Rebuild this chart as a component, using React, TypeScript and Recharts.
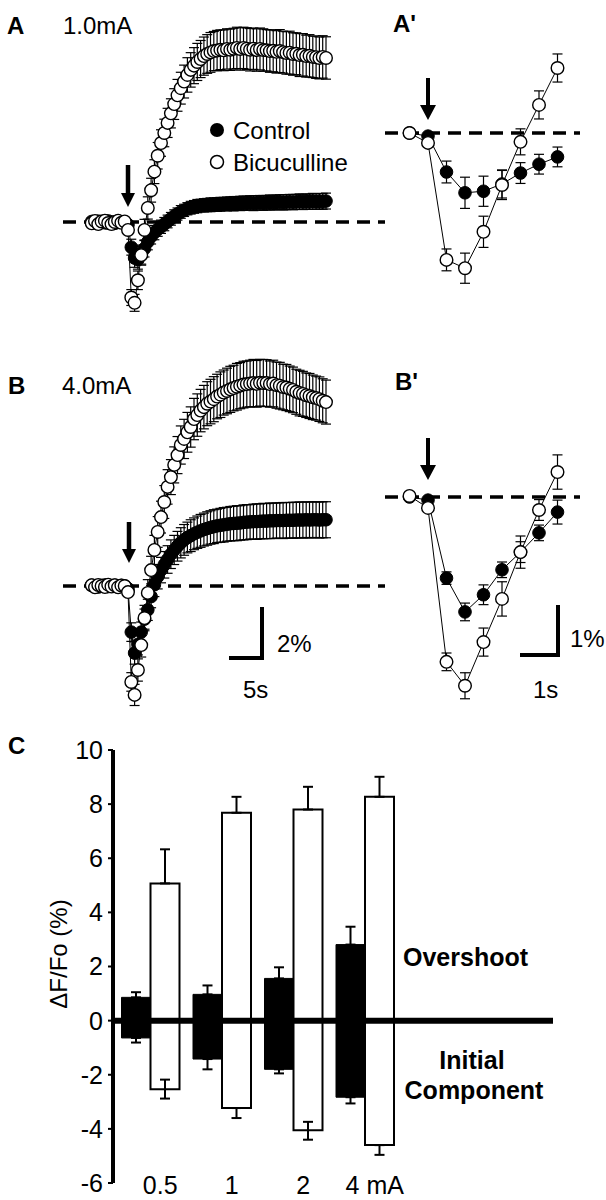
import React from "react";
import { LineChart, Line, XAxis, YAxis, ReferenceLine, ErrorBar, BarChart, Bar } from "recharts";

const FONT = "'Liberation Sans', Arial, Helvetica, sans-serif";

// ---- panels A / B : time course, one sample every 0.5 s (t = 0 is the stimulus)
const traceTimes = [
  -5.5, -5, -4.5, -4, -3.5, -3, -2.5, -2, -1.5, -1, -0.5,
  0, 0.5, 1, 1.5, 2, 2.5, 3, 3.5, 4, 4.5,
  5, 5.5, 6, 6.5, 7, 7.5, 8, 8.5, 9, 9.5,
  10, 10.5, 11, 11.5, 12, 12.5, 13, 13.5, 14, 14.5,
  15, 15.5, 16, 16.5, 17, 17.5, 18, 18.5, 19, 19.5,
  20, 20.5, 21, 21.5, 22, 22.5, 23, 23.5, 24, 24.5,
  25, 25.5, 26, 26.5, 27, 27.5, 28, 28.5, 29, 29.5,
  30,
];

// A, 1.0 mA
const aControl = [
  0.02, -0.04, 0.03, 0, -0.03, 0.04, 0, -0.05, 0.03, 0, -0.02,
  -0.1, -0.95, -1.36, -1.42, -1.25, -1.0, -0.75, -0.55, -0.4, -0.28,
  -0.18, -0.08, 0.02, 0.12, 0.22, 0.3, 0.38, 0.44, 0.5, 0.54,
  0.57, 0.6, 0.62, 0.63, 0.64, 0.65, 0.66, 0.66, 0.67, 0.68,
  0.68, 0.69, 0.69, 0.7, 0.7, 0.71, 0.71, 0.72, 0.71, 0.72,
  0.73, 0.72, 0.73, 0.74, 0.73, 0.74, 0.75, 0.74, 0.75, 0.76,
  0.75, 0.76, 0.77, 0.76, 0.77, 0.77, 0.78, 0.77, 0.78, 0.78,
  0.79,
];
const aControlErr = [
  0.1, 0.12, 0.1, 0.11, 0.1, 0.12, 0.1, 0.11, 0.1, 0.12, 0.1,
  0.12, 0.3, 0.35, 0.36, 0.34, 0.32, 0.3, 0.28, 0.27, 0.26,
  0.25, 0.25, 0.24, 0.24, 0.24, 0.23, 0.24, 0.23, 0.23, 0.24,
  0.24, 0.25, 0.24, 0.25, 0.25, 0.26, 0.25, 0.26, 0.26, 0.25,
  0.26, 0.26, 0.27, 0.26, 0.27, 0.27, 0.26, 0.27, 0.28, 0.27,
  0.27, 0.28, 0.27, 0.28, 0.28, 0.27, 0.28, 0.29, 0.28, 0.28,
  0.29, 0.28, 0.29, 0.29, 0.28, 0.29, 0.3, 0.29, 0.29, 0.3,
  0.3,
];
const aBic = [
  -0.05, 0.04, -0.08, 0.02, 0.05, -0.04, -0.08, 0, 0.05, -0.03, 0.02,
  -0.3, -2.85, -3.05, -2.2, -1.25, -0.3, 0.53, 1.2, 1.9, 2.5,
  2.98, 3.36, 3.74, 4.1, 4.45, 4.78, 5.05, 5.3, 5.55, 5.74,
  5.9, 6.04, 6.15, 6.26, 6.34, 6.4, 6.45, 6.47, 6.5, 6.48,
  6.53, 6.5, 6.54, 6.57, 6.53, 6.57, 6.54, 6.5, 6.54, 6.49,
  6.53, 6.49, 6.48, 6.45, 6.46, 6.42, 6.45, 6.41, 6.38, 6.39,
  6.34, 6.35, 6.3, 6.31, 6.26, 6.27, 6.23, 6.22, 6.19, 6.23,
  6.19,
];
const aBicErr = [
  0.12, 0.15, 0.12, 0.14, 0.13, 0.15, 0.12, 0.14, 0.13, 0.15, 0.14,
  0.15, 0.3, 0.32, 0.35, 0.38, 0.4, 0.42, 0.45, 0.45, 0.5,
  0.5, 0.52, 0.55, 0.55, 0.58, 0.6, 0.6, 0.62, 0.65, 0.65,
  0.68, 0.7, 0.7, 0.72, 0.73, 0.75, 0.74, 0.76, 0.75, 0.77,
  0.76, 0.78, 0.77, 0.78, 0.8, 0.78, 0.79, 0.8, 0.78, 0.8,
  0.79, 0.8, 0.78, 0.8, 0.79, 0.8, 0.81, 0.79, 0.8, 0.81,
  0.8, 0.79, 0.81, 0.8, 0.79, 0.8, 0.78, 0.8, 0.79, 0.8,
  0.8,
];

// B, 4.0 mA
const bControl = [
  0.03, 0, -0.04, 0.02, 0.04, -0.02, 0, 0.03, -0.03, 0.02, 0,
  -0.1, -1.74, -2.53, -2.2, -1.74, -1.25, -0.9, -0.4, 0.05, 0.35,
  0.6, 0.8, 1.0, 1.2, 1.36, 1.5, 1.63, 1.74, 1.83, 1.9,
  1.97, 2.03, 2.08, 2.13, 2.17, 2.21, 2.24, 2.27, 2.29, 2.31,
  2.33, 2.35, 2.36, 2.37, 2.38, 2.4, 2.41, 2.42, 2.43, 2.43,
  2.44, 2.45, 2.45, 2.46, 2.46, 2.47, 2.47, 2.47, 2.48, 2.48,
  2.48, 2.49, 2.49, 2.49, 2.5, 2.49, 2.5, 2.5, 2.49, 2.5,
  2.5,
];
const bControlErr = [
  0.1, 0.12, 0.1, 0.11, 0.12, 0.1, 0.11, 0.12, 0.1, 0.11, 0.12,
  0.14, 0.35, 0.42, 0.4, 0.38, 0.38, 0.4, 0.42, 0.45, 0.46,
  0.48, 0.5, 0.52, 0.54, 0.55, 0.56, 0.57, 0.58, 0.58, 0.6,
  0.6, 0.61, 0.62, 0.62, 0.63, 0.63, 0.64, 0.63, 0.64, 0.65,
  0.64, 0.65, 0.65, 0.66, 0.65, 0.66, 0.66, 0.65, 0.66, 0.67,
  0.66, 0.67, 0.66, 0.67, 0.67, 0.66, 0.67, 0.68, 0.67, 0.67,
  0.68, 0.67, 0.68, 0.68, 0.67, 0.68, 0.68, 0.67, 0.68, 0.68,
  0.68,
];
const bBic = [
  0.03, -0.05, 0.04, 0, -0.04, 0.05, -0.02, 0.03, -0.05, 0.02, 0,
  -0.23, -3.62, -4.11, -3.17, -2.23, -1.21, -0.26, 0.6, 1.36, 2.04,
  2.6, 3.17, 3.74, 4.11, 4.57, 4.94, 5.32, 5.55, 5.8, 6.0,
  6.3, 6.45, 6.62, 6.75, 6.88, 6.96, 7.05, 7.15, 7.22, 7.3,
  7.36, 7.42, 7.47, 7.52, 7.56, 7.6, 7.62, 7.64, 7.66, 7.63,
  7.67, 7.66, 7.66, 7.62, 7.64, 7.58, 7.56, 7.51, 7.49, 7.44,
  7.4, 7.33, 7.28, 7.25, 7.2, 7.17, 7.12, 7.09, 7.05, 6.99,
  6.94,
];
const bBicErr = [
  0.12, 0.14, 0.12, 0.15, 0.13, 0.14, 0.12, 0.15, 0.13, 0.14, 0.12,
  0.15, 0.35, 0.4, 0.42, 0.45, 0.48, 0.5, 0.52, 0.55, 0.58,
  0.6, 0.62, 0.65, 0.66, 0.68, 0.7, 0.72, 0.74, 0.75, 0.76,
  0.78, 0.8, 0.8, 0.82, 0.83, 0.84, 0.85, 0.84, 0.86, 0.85,
  0.86, 0.87, 0.86, 0.88, 0.87, 0.88, 0.87, 0.88, 0.89, 0.88,
  0.88, 0.89, 0.88, 0.87, 0.88, 0.87, 0.88, 0.86, 0.87, 0.86,
  0.86, 0.85, 0.86, 0.85, 0.84, 0.85, 0.84, 0.83, 0.84, 0.83,
  0.83,
];

// ---- panels A' / B' : first seconds, expanded
const zoomTimes = [-0.5, 0, 0.5, 1, 1.5, 2, 2.5, 3, 3.5];
const apControl = [0, -0.06, -0.75, -1.15, -1.12, -0.98, -0.77, -0.6, -0.46];
const apControlErr = [0.04, 0.05, 0.21, 0.3, 0.29, 0.27, 0.2, 0.19, 0.19];
const apBic = [0, -0.19, -2.44, -2.6, -1.9, -1.0, -0.17, 0.54, 1.25];
const apBicErr = [0.05, 0.06, 0.21, 0.29, 0.3, 0.28, 0.25, 0.27, 0.27];
const bpControl = [0, -0.06, -1.56, -2.21, -1.88, -1.4, -1.06, -0.69, -0.29];
const bpControlErr = [0.03, 0.05, 0.12, 0.17, 0.19, 0.15, 0.2, 0.15, 0.23];
const bpBic = [0.02, -0.21, -3.17, -3.63, -2.79, -1.96, -1.06, -0.25, 0.48];
const bpBicErr = [0.03, 0.05, 0.17, 0.25, 0.27, 0.33, 0.31, 0.2, 0.33];

// ---- panel C : peak amplitudes
const currents = ["0.5", "1", "2", "4 mA"];
const controlOvershoot = [0.86, 0.97, 1.56, 2.81];
const controlOvershootErr = [0.19, 0.33, 0.41, 0.66];
const controlInitial = [-0.64, -1.42, -1.8, -2.83];
const controlInitialErr = [0.17, 0.38, 0.15, 0.23];
const bicOvershoot = [5.07, 7.68, 7.8, 8.27];
const bicOvershootErr = [1.26, 0.59, 0.84, 0.74];
const bicInitial = [-2.54, -3.23, -4.05, -4.6];
const bicInitialErrDown = [0.34, 0.37, 0.35, 0.36];
const bicInitialErrUp = [0.36, 0, 0.31, 0];
const yTicks = [-6, -4, -2, 0, 2, 4, 6, 8, 10];

type Geo = { left: number; top: number; width: number; height: number; x0: number; y0: number; pxS: number; pxP: number };

const geoA: Geo = { left: 63, top: 10, width: 322, height: 320, x0: 128, y0: 222, pxS: 6.6, pxP: 26.5 };
const geoB: Geo = { left: 63, top: 350, width: 322, height: 380, x0: 128, y0: 586, pxS: 6.6, pxP: 26.5 };
const geoAp: Geo = { left: 385, top: 30, width: 195, height: 290, x0: 428, y0: 133, pxS: 37, pxP: 52 };
const geoBp: Geo = { left: 385, top: 400, width: 195, height: 320, x0: 428, y0: 497, pxS: 37, pxP: 52 };

const domains = (g: Geo) => ({
  x: [(g.left - g.x0) / g.pxS, (g.left + g.width - g.x0) / g.pxS],
  y: [(g.y0 - g.top - g.height) / g.pxP, (g.y0 - g.top) / g.pxP],
});

const FilledDot = (p: any) => (
  <circle key={`f-${p.index}`} cx={p.cx} cy={p.cy} r={6.3} fill="#000" stroke="#000" strokeWidth={1} />
);
const OpenDot = (p: any) => (
  <circle key={`o-${p.index}`} cx={p.cx} cy={p.cy} r={6.3} fill="#fff" stroke="#000" strokeWidth={1.4} />
);

function Trace({ geo, times, control, controlErr, bic, bicErr }: any) {
  const d = domains(geo);
  const rows = times.map((t: number, i: number) => ({
    t,
    control: control[i],
    controlErr: controlErr[i],
    bic: bic[i],
    bicErr: bicErr[i],
  }));
  return (
    <div style={{ position: "absolute", left: geo.left, top: geo.top }}>
      <LineChart width={geo.width} height={geo.height} data={rows} margin={{ top: 0, right: 0, bottom: 0, left: 0 }}>
        <XAxis type="number" dataKey="t" domain={d.x} hide allowDataOverflow />
        <YAxis type="number" domain={d.y} hide allowDataOverflow />
        <ReferenceLine y={0} stroke="#000" strokeWidth={3.5} strokeDasharray="13 8" />
        <Line type="linear" dataKey="control" stroke="#000" strokeWidth={1} dot={FilledDot} isAnimationActive={false}>
          <ErrorBar dataKey="controlErr" width={5} stroke="#000" strokeWidth={1.2} direction="y" />
        </Line>
        <Line type="linear" dataKey="bic" stroke="#000" strokeWidth={1} dot={OpenDot} isAnimationActive={false}>
          <ErrorBar dataKey="bicErr" width={5} stroke="#000" strokeWidth={1.2} direction="y" />
        </Line>
      </LineChart>
    </div>
  );
}

const barRows = currents.map((c, i) => ({
  current: c,
  ctlOver: controlOvershoot[i],
  ctlOverErr: [0, controlOvershootErr[i]],
  ctlInit: controlInitial[i],
  ctlInitErr: [controlInitialErr[i], 0],
  bicOver: bicOvershoot[i],
  bicOverErr: [0, bicOvershootErr[i]],
  bicInit: bicInitial[i],
  bicInitErr: [bicInitialErrDown[i], bicInitialErrUp[i]],
}));

const CurrentTick = (p: any) => (
  <text x={p.x + 10} y={p.y} textAnchor="middle" dominantBaseline="central" fontSize={25} fontFamily={FONT} fill="#000">
    {p.payload.value}
  </text>
);

function Arrow({ x, y1, y2, head, headH, shaft }: any) {
  return (
    <g>
      <line x1={x} y1={y1} x2={x} y2={y2 - headH + 1} stroke="#000" strokeWidth={shaft} />
      <polygon points={`${x - head / 2},${y2 - headH} ${x + head / 2},${y2 - headH} ${x},${y2}`} fill="#000" />
    </g>
  );
}

export default function App() {
  const t = { fontFamily: FONT, fill: "#000" };
  return (
    <div style={{ position: "absolute", left: 0, top: 0, width: 606, height: 1200, background: "#fff", overflow: "hidden" }}>
      <Trace geo={geoA} times={traceTimes} control={aControl} controlErr={aControlErr} bic={aBic} bicErr={aBicErr} />
      <Trace geo={geoB} times={traceTimes} control={bControl} controlErr={bControlErr} bic={bBic} bicErr={bBicErr} />
      <Trace geo={geoAp} times={zoomTimes} control={apControl} controlErr={apControlErr} bic={apBic} bicErr={apBicErr} />
      <Trace geo={geoBp} times={zoomTimes} control={bpControl} controlErr={bpControlErr} bic={bpBic} bicErr={bpBicErr} />

      <div style={{ position: "absolute", left: 0, top: 730 }}>
        <BarChart
          width={606}
          height={470}
          data={barRows}
          stackOffset="sign"
          barSize={29}
          barGap={0}
          margin={{ top: 20, right: 53, bottom: 0, left: 53 }}
        >
          <XAxis
            dataKey="current"
            height={17}
            axisLine={false}
            tickLine={false}
            tickSize={0}
            tick={CurrentTick}
            interval={0}
            padding={{ left: 1.5, right: 152.5 }}
          />
          <YAxis
            width={60}
            domain={[-6, 10]}
            ticks={yTicks}
            interval={0}
            allowDataOverflow
            axisLine={{ stroke: "#000", strokeWidth: 4 }}
            tickLine={{ stroke: "#000", strokeWidth: 2 }}
            tickSize={5}
            tickMargin={5}
            tick={{ fill: "#000", fontSize: 25, fontFamily: FONT }}
          />
          <Bar dataKey="ctlOver" stackId="control" fill="#000" stroke="#000" strokeWidth={1} isAnimationActive={false}>
            <ErrorBar dataKey="ctlOverErr" width={5} stroke="#000" strokeWidth={2} direction="y" />
          </Bar>
          <Bar dataKey="ctlInit" stackId="control" fill="#000" stroke="#000" strokeWidth={1} isAnimationActive={false}>
            <ErrorBar dataKey="ctlInitErr" width={5} stroke="#000" strokeWidth={2} direction="y" />
          </Bar>
          <Bar dataKey="bicOver" stackId="bic" fill="#fff" stroke="#000" strokeWidth={2} isAnimationActive={false}>
            <ErrorBar dataKey="bicOverErr" width={5} stroke="#000" strokeWidth={2} direction="y" />
          </Bar>
          <Bar dataKey="bicInit" stackId="bic" fill="#fff" stroke="#000" strokeWidth={2} isAnimationActive={false}>
            <ErrorBar dataKey="bicInitErr" width={5} stroke="#000" strokeWidth={2} direction="y" />
          </Bar>
          <ReferenceLine y={0} stroke="#000" strokeWidth={6} />
        </BarChart>
      </div>

      <svg width={606} height={1200} style={{ position: "absolute", left: 0, top: 0, pointerEvents: "none" }}>
        {/* panel letters and titles */}
        <text x={7} y={25} dominantBaseline="central" fontSize={24} fontWeight="bold" {...t}>A</text>
        <text x={63} y={25} dominantBaseline="central" fontSize={24} {...t}>1.0mA</text>
        <text x={393} y={23} dominantBaseline="central" fontSize={24} fontWeight="bold" {...t}>A'</text>
        <text x={8} y={385} dominantBaseline="central" fontSize={24} fontWeight="bold" {...t}>B</text>
        <text x={62} y={385} dominantBaseline="central" fontSize={24} {...t}>4.0mA</text>
        <text x={395} y={381} dominantBaseline="central" fontSize={24} fontWeight="bold" {...t}>B'</text>
        <text x={8} y={745} dominantBaseline="central" fontSize={24} fontWeight="bold" {...t}>C</text>

        {/* legend */}
        <circle cx={217} cy={130} r={7} fill="#000" />
        <text x={233} y={130} dominantBaseline="central" fontSize={24} {...t}>Control</text>
        <circle cx={217} cy={162} r={6.5} fill="#fff" stroke="#000" strokeWidth={1.5} />
        <text x={233} y={162} dominantBaseline="central" fontSize={24} {...t}>Bicuculline</text>

        {/* stimulus arrows */}
        <Arrow x={128} y1={165} y2={207} head={14} headH={14} shaft={4.5} />
        <Arrow x={129} y1={522} y2={563} head={14} headH={14} shaft={4.5} />
        <Arrow x={428} y1={78} y2={120} head={16} headH={15} shaft={4} />
        <Arrow x={428} y1={438} y2={480} head={16} headH={15} shaft={4} />

        {/* scale bars */}
        <path d="M229 658 H262 V607" fill="none" stroke="#000" strokeWidth={4} />
        <text x={277} y={643} dominantBaseline="central" fontSize={24} {...t}>2%</text>
        <text x={243} y={689} dominantBaseline="central" fontSize={24} {...t}>5s</text>
        <path d="M520 655 H558 V605" fill="none" stroke="#000" strokeWidth={4} />
        <text x={570} y={638} dominantBaseline="central" fontSize={24} {...t}>1%</text>
        <text x={533} y={689} dominantBaseline="central" fontSize={24} {...t}>1s</text>

        {/* panel C annotations */}
        <text transform="translate(58,954) rotate(-90)" textAnchor="middle" dominantBaseline="central" fontSize={24} {...t}>
          ΔF/Fo (%)
        </text>
        <text x={403} y={957} dominantBaseline="central" fontSize={25} fontWeight="bold" {...t}>Overshoot</text>
        <text x={472} y={1060} textAnchor="middle" dominantBaseline="central" fontSize={25} fontWeight="bold" {...t}>Initial</text>
        <text x={474} y={1090} textAnchor="middle" dominantBaseline="central" fontSize={25} fontWeight="bold" {...t}>Component</text>
      </svg>
    </div>
  );
}
